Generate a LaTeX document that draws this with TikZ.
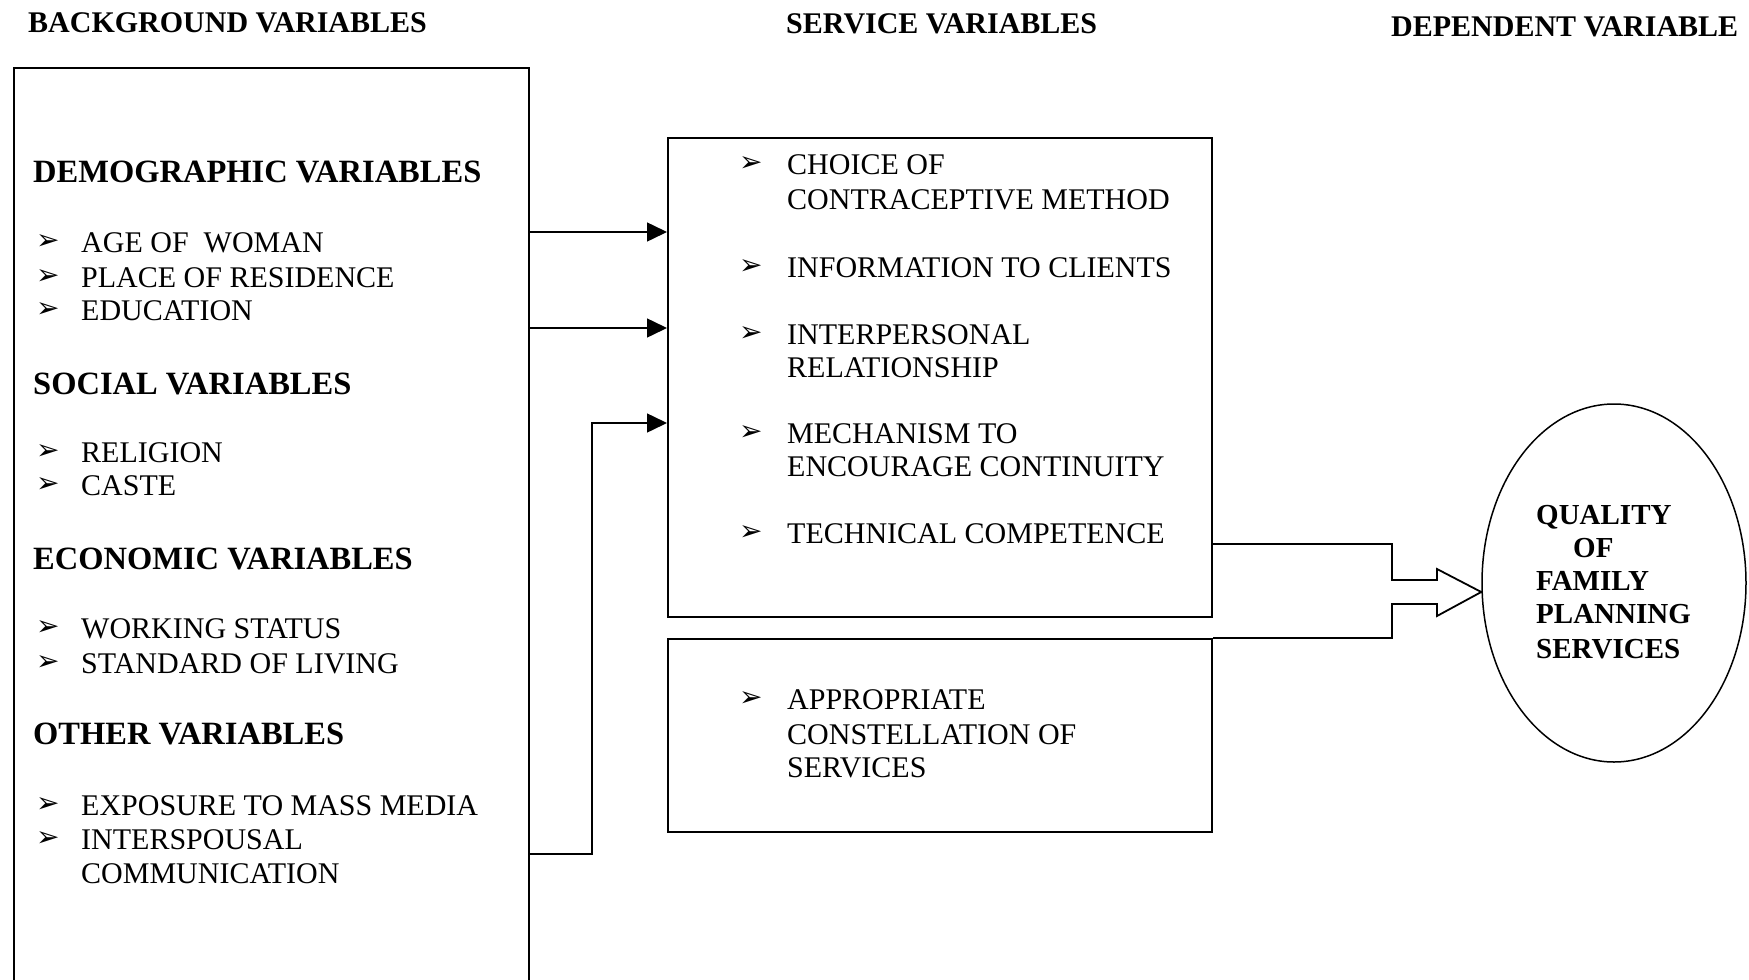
\documentclass[tikz,border=0pt]{standalone}
\usepackage{fontspec}
\setmainfont{Liberation Serif}
\newfontfamily\dejavu{DejaVu Sans}
\usetikzlibrary{arrows.meta,shapes.geometric}
\tikzset{
  ttl/.style={font=\fontsize{30}{34}\selectfont\bfseries, anchor=base west, inner sep=0},
  hd/.style={font=\fontsize{32.5}{36}\selectfont\bfseries, anchor=base west, inner sep=0},
  itm/.style={font=\fontsize{30}{34}\selectfont, anchor=base west, inner sep=0},
  ell/.style={font=\fontsize{29}{33}\selectfont\bfseries, anchor=base west, inner sep=0},
  bul/.style={font=\dejavu\fontsize{28}{28}\selectfont, anchor=west, inner sep=0},
  box/.style={draw, line width=2pt, inner sep=0, anchor=north west},
  arr/.style={line width=1.5pt, -{Triangle[length=20pt,width=19pt]}},
  hollow/.style={line width=1.8pt, line join=miter},
}
\begin{document}
\begin{tikzpicture}[x=1pt,y=-1pt]
\useasboundingbox (0,0) rectangle (1749,980);
% titles
\node[ttl] (tbg) at (28,32) {BACKGROUND VARIABLES};
\node[ttl] (tsv) at (786,33) {SERVICE VARIABLES};
\node[ttl] (tdv) at (1391,36) {DEPENDENT VARIABLE};
% boxes
\node[box, minimum width=515, minimum height=960] (bg) at (13,67) {};
\node[box, minimum width=544, minimum height=479] (s1) at (667,137) {};
\node[box, minimum width=544, minimum height=193] (s2) at (667,638) {};
\node[draw, ellipse, line width=1.5pt, minimum width=264, minimum height=358] (qf) at (1614,583) {};
% left texts
\node[hd] (h1) at (33,182) {DEMOGRAPHIC VARIABLES};
\node[bul] (b1) at (36,242) {➢}; \node[itm] (i1) at (81,252) {AGE OF\ \ WOMAN};
\node[bul] (b2) at (36,277) {➢}; \node[itm] (i2) at (81,287) {PLACE OF RESIDENCE};
\node[bul] (b3) at (36,310) {➢}; \node[itm] (i3) at (81,320) {EDUCATION};
\node[hd] (h2) at (33,394) {SOCIAL VARIABLES};
\node[bul] (b4) at (36,452) {➢}; \node[itm] (i4) at (81,462) {RELIGION};
\node[bul] (b5) at (36,485) {➢}; \node[itm] (i5) at (81,495) {CASTE};
\node[hd] (h3) at (33,569) {ECONOMIC VARIABLES};
\node[bul] (b6) at (36,628) {➢}; \node[itm] (i6) at (81,638) {WORKING STATUS};
\node[bul] (b7) at (36,663) {➢}; \node[itm] (i7) at (81,673) {STANDARD OF LIVING};
\node[hd] (h4) at (33,744) {OTHER VARIABLES};
\node[bul] (b8) at (36,805) {➢}; \node[itm] (i8) at (81,815) {EXPOSURE TO MASS MEDIA};
\node[bul] (b9) at (36,839) {➢}; \node[itm] (i9) at (81,849) {INTERSPOUSAL};
\node[itm] (i10) at (81,883) {COMMUNICATION};
% service texts
\node[bul] (c1) at (739,164) {➢}; \node[itm] (j1) at (787,174) {CHOICE OF};
\node[itm] (j1b) at (787,209) {CONTRACEPTIVE METHOD};
\node[bul] (c2) at (739,267) {➢}; \node[itm] (j2) at (787,277) {INFORMATION TO CLIENTS};
\node[bul] (c3) at (739,334) {➢}; \node[itm] (j3) at (787,344) {INTERPERSONAL};
\node[itm] (j3b) at (787,377) {RELATIONSHIP};
\node[bul] (c4) at (739,433) {➢}; \node[itm] (j4) at (787,443) {MECHANISM TO};
\node[itm] (j4b) at (787,476) {ENCOURAGE CONTINUITY};
\node[bul] (c5) at (739,533) {➢}; \node[itm] (j5) at (787,543) {TECHNICAL COMPETENCE};
\node[bul] (c6) at (739,699) {➢}; \node[itm] (j6) at (787,709) {APPROPRIATE};
\node[itm] (j6b) at (787,744) {CONSTELLATION OF};
\node[itm] (j6c) at (787,777) {SERVICES};
% ellipse text
\node[ell] (e1) at (1536,524) {QUALITY};
\node[ell] (e2) at (1573,557) {OF};
\node[ell] (e3) at (1536,590) {FAMILY};
\node[ell] (e4) at (1536,623) {PLANNING};
\node[ell] (e5) at (1536,658) {SERVICES};
% arrows
\draw[arr] (bg.east |- 0,232) -- (s1.west |- 0,232);
\draw[arr] (bg.east |- 0,328) -- (s1.west |- 0,328);
\coordinate (k1) at (592,854);
\coordinate (k2) at (592,423);
\draw[arr] (bg.east |- k1) -- (k1) -- (k2) -- (s1.west |- k2);
% hollow arrow
\coordinate (p1) at (1392,544);
\coordinate (p2) at (1392,638);
\coordinate (tip) at ([yshift=-9pt]qf.west);
\draw[hollow] (s1.east |- p1) -- (p1) -- (1392,580) -- (1437,580) -- (1437,569)
  -- (tip) -- (1437,616) -- (1437,604) -- (1392,604) -- (p2) -- (s2.north east);
\end{tikzpicture}
\end{document}
